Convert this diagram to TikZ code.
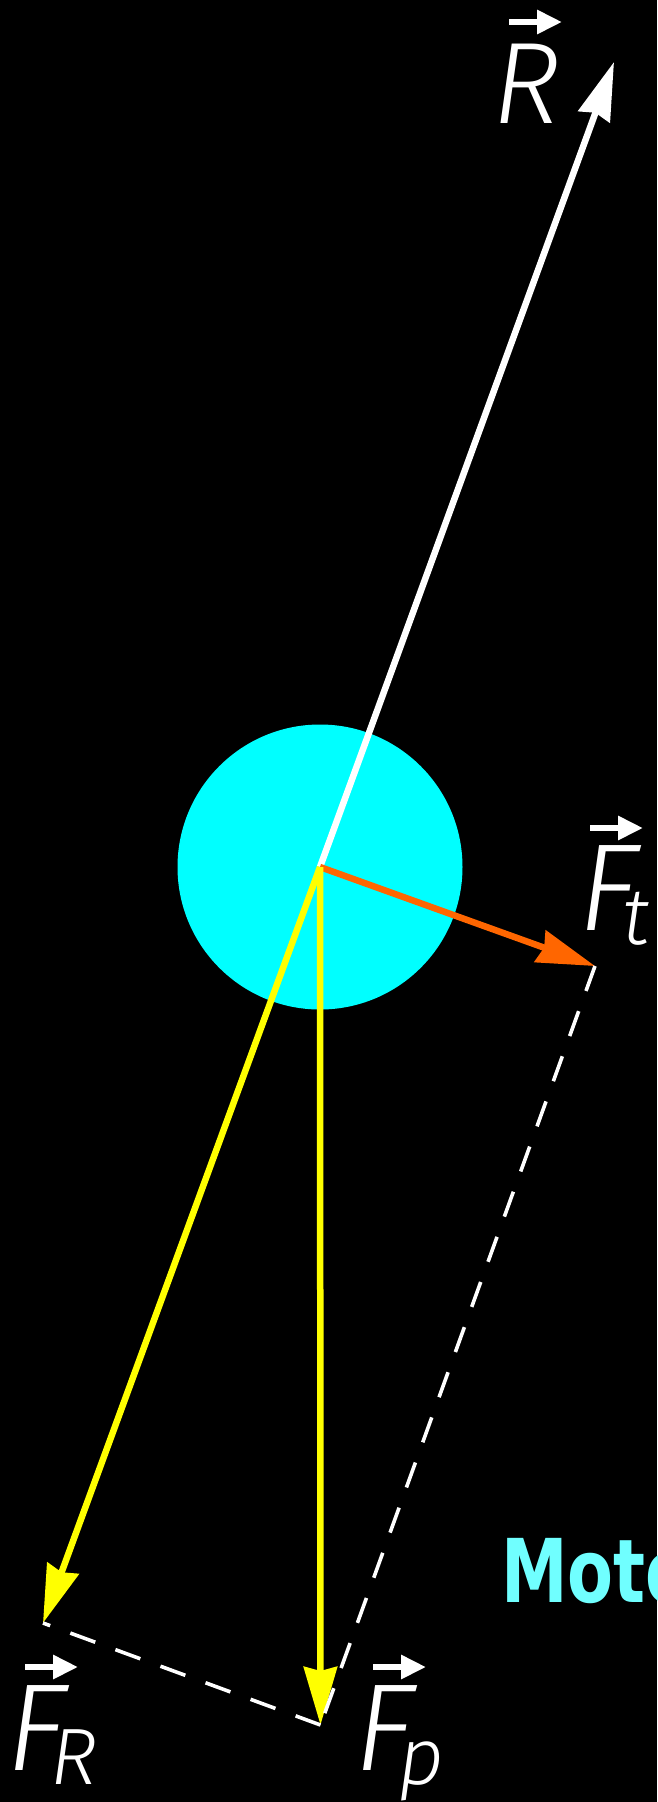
\documentclass[tikz,border=0pt]{standalone}
\usepackage{fontspec}
\usetikzlibrary{arrows.meta}
\newfontfamily\lblfont{Fira Sans Light Italic}
\newfontfamily\motofont{DejaVu Sans Bold}[FakeStretch=0.76]
\definecolor{ballcyan}{HTML}{00FFFF}
\definecolor{motocyan}{HTML}{70FFFF}
\definecolor{ftorange}{HTML}{FF6600}
\definecolor{fyellow}{HTML}{FFFF00}
\newcommand\lblsub[1]{\kern-15pt\raisebox{-14pt}{\fontsize{80}{80}\selectfont #1}}

\begin{document}
\begin{tikzpicture}[
  x=1pt,y=-1pt,
  ball/.style={circle,fill=ballcyan,minimum size=285pt,inner sep=0pt},
  vec/.style={-{Stealth[length=58pt,width=33pt,inset=4pt]},line width=6.5pt},
  dashline/.style={draw=white,line width=3.6pt,dash pattern=on 26.5pt off 21.5pt},
  overarr/.style={-{Triangle[length=25pt,width=23pt]},line width=6pt,draw=white},
  lbl/.style={text=white,inner sep=0pt,anchor=base west,
              font=\lblfont\fontsize{124}{124}\selectfont},
  moto/.style={text=motocyan,inner sep=0pt,anchor=base west,
               font=\motofont\fontsize{88}{88}\selectfont}
]
\useasboundingbox (0,0) rectangle (657,1802);
\fill[black] (0,0) rectangle (657,1802);
\clip (0,0) rectangle (657,1802);

\node[ball] (ball) at (320,867) {};
\coordinate (O) at (ball.center);
\coordinate (Rtip) at (614,62);
\coordinate (Fttip) at (595,966);
\coordinate (FRtip) at (43,1623);
\coordinate (Fptip) at (320.5,1725);

\draw[vec,white] (O) -- (Rtip);
\draw[vec,ftorange] (O) -- (Fttip);
\draw[vec,fyellow] (O) -- (FRtip);
\draw[vec,fyellow] (O) -- (Fptip);

% parallelogram of forces
\draw[dashline] (Fttip) -- (Fptip);
\draw[dashline] (Fptip) -- (FRtip);

\node[lbl,font=\lblfont\fontsize{116}{116}\selectfont] (labR) at (492,123) {R};
\node[lbl] (labFt) at (578,930) {F\lblsub{t}};
\node[lbl] (labFR) at (6,1770) {F\lblsub{R}};
\node[lbl] (labFp) at (354,1770) {F\lblsub{p}};
\draw[overarr] ([shift={(17,-101)}]labR.base west) -- ++(53,0);
\draw[overarr] ([shift={(12,-102)}]labFt.base west) -- ++(53,0);
\draw[overarr] ([shift={(19,-103)}]labFR.base west) -- ++(53,0);
\draw[overarr] ([shift={(19,-103)}]labFp.base west) -- ++(53,0);

\node[moto] (moto) at (501,1602) {Moto};
\end{tikzpicture}
\end{document}
